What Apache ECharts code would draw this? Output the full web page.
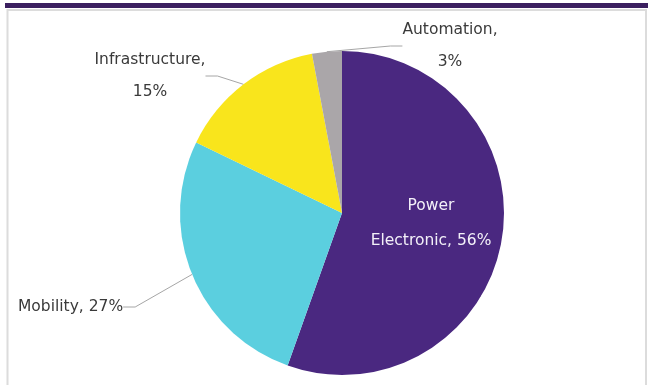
<!DOCTYPE html>
<html lang="en">
<head>
    <meta charset="UTF-8">
    <title>Pie</title>
    <script src="https://cdn.jsdelivr.net/npm/echarts@6/dist/echarts.min.js"></script>
</head>
<style>
    *{
        margin: 0;
        padding: 0;
    }
    html, body{
        width: 648px;
        height: 385px;
        background: #fff;
    }
    .container{
        width: 648px;
        height: 385px;
    }
</style>
<body>
<div class="container"></div>
<script>
    // data
    let names = ['Power Electronic', 'Mobility', 'Infrastructure', 'Automation'];
    let values = [56, 27, 15, 3];
    let colors = ['#4a2880', '#5bcfdf', '#f9e51c', '#aaa6a9'];

    // where each label sits (px) and how it is aligned
    let labelPos = [
        {x: 431, y: 223, align: 'center'},
        {x: 18, y: 307, align: 'left'},
        {x: 150, y: 76, align: 'center'},
        {x: 450, y: 46, align: 'center'}
    ];

    let container = document.querySelector('.container');
    let mycharts = echarts.init(container);

    let pieData = names.map((name, i) => {
        let item = {
            name: name,
            value: values[i],
            itemStyle: {color: colors[i]}
        };
        if (i == 0) {
            item.label = {
                position: 'inside',
                color: '#f3f0f8',
                lineHeight: 35,
                formatter: 'Power\nElectronic, {c}%'
            };
        } else if (i == 1) {
            item.label = {formatter: '{b}, {c}%'};
        } else {
            item.label = {formatter: '{b},\n{c}%'};
        }
        return item;
    });

    let options = {
        backgroundColor: '#fff',
        graphic: [
            {
                type: 'rect',
                shape: {x: 5, y: 3, width: 643, height: 5},
                style: {fill: '#3b1f5f'}
            },
            {
                type: 'rect',
                shape: {x: 7.5, y: 10, width: 638.5, height: 400},
                style: {fill: 'none', stroke: '#dcdcdc', lineWidth: 2}
            }
        ],
        series: [{
            type: 'pie',
            center: [342, 213],
            radius: 162,
            startAngle: 90,
            clockwise: true,
            animation: false,
            data: pieData,
            label: {
                show: true,
                position: 'outside',
                fontFamily: 'DejaVu Sans',
                fontSize: 15.5,
                color: '#3a3a3a',
                lineHeight: 32
            },
            labelLine: {
                show: true,
                length: 20,
                length2: 12,
                lineStyle: {color: '#a6a6a6', width: 1}
            },
            labelLayout: function (params) {
                let p = labelPos[params.dataIndex];
                return {
                    x: p.x,
                    y: p.y,
                    align: p.align,
                    verticalAlign: 'middle'
                };
            }
        }]
    };

    mycharts.setOption(options);
</script>
</body>
</html>
